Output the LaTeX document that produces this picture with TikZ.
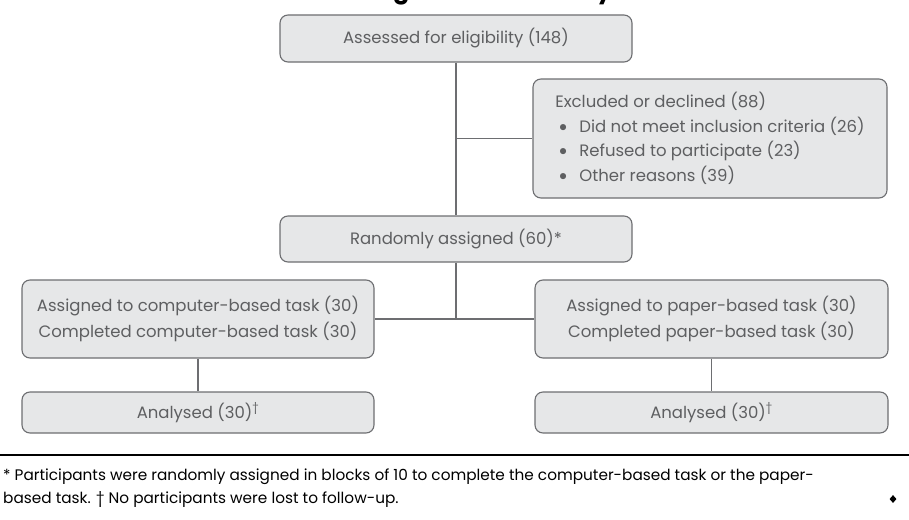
\documentclass[tikz,border=0pt]{standalone}
\usepackage{fontspec}
\setmainfont{Poppins}
\newfontfamily\bulletfont{Lato}
\usetikzlibrary{shapes.geometric,calc}
\definecolor{boxfill}{HTML}{E6E7E8}
\definecolor{boxline}{HTML}{6D6E71}
\definecolor{txt}{HTML}{5E5F61}
\newcommand{\bulitem}{\makebox[24pt][l]{\hspace{3pt}{\bulletfont •}}}
\begin{document}
\begin{tikzpicture}[x=1pt,y=-1pt,
  flowbox/.style={draw=boxline, fill=boxfill, line width=1.1pt, rounded corners=8pt,
    inner sep=0pt, text=txt, font=\fontsize{16.5}{26}\selectfont, align=center},
  conn/.style={draw=boxline, line width=1.1pt}]
\useasboundingbox (0,0) rectangle (909,519);
\begin{scope}
\clip (0,0) rectangle (909,519);
\node[anchor=base, font=\bfseries\fontsize{24}{28}\selectfont, text=black] (title) at (452,-1) {Flow diagram of the study};
\end{scope}
\node[flowbox, minimum width=352pt, minimum height=47pt] (top) at (456,38.5) {Assessed for eligibility (148)};
\node[flowbox, minimum width=354pt, minimum height=119pt, align=left, font=\fontsize{16.5}{24.5}\selectfont] (excl) at (710,138.5)
  {Excluded or declined (88)\\
   \bulitem Did not meet inclusion criteria (26)\\
   \bulitem Refused to participate (23)\\
   \bulitem Other reasons (39)};
\node[flowbox, minimum width=352pt, minimum height=46pt] (rand) at (456,239) {Randomly assigned (60)*};
\node[flowbox, minimum width=352pt, minimum height=78pt] (asL) at (198,319)
  {Assigned to computer-based task (30)\\Completed computer-based task (30)};
\node[flowbox, minimum width=353pt, minimum height=78pt] (asR) at (711.5,319)
  {Assigned to paper-based task (30)\\Completed paper-based task (30)};
\node[flowbox, minimum width=352pt, minimum height=41pt] (anL) at (198,412.5) {Analysed (30)\textsuperscript{†}};
\node[flowbox, minimum width=353pt, minimum height=41pt] (anR) at (711.5,412.5) {Analysed (30)\textsuperscript{†}};
\draw[conn] (top.south) -- (rand.north);
\draw[conn] (top.south |- excl.west) -- (excl.west);
\draw[conn] (rand.south) -- (rand.south |- asL.east);
\draw[conn] (asL.east) -- (asR.west);
\draw[conn] (asL.south) -- (anL.north);
\draw[conn] (asR.south) -- (anR.north);
\coordinate (ruleL) at (0,455);
\coordinate (ruleR) at (909,455);
\draw[line width=2.4pt, black] (ruleL) -- (ruleR);
\node[anchor=north west, inner sep=0pt, align=left, text=black, font=\fontsize{15.3}{22.5}\selectfont] (foot) at (3,469)
  {* Participants were randomly assigned in blocks of 10 to complete the computer-based task or the paper-\\
   based task. † No participants were lost to follow-up.};
\node[diamond, fill=black, inner sep=0pt, minimum width=7pt, minimum height=8pt] (dia) at (893,499) {};
\end{tikzpicture}
\end{document}
